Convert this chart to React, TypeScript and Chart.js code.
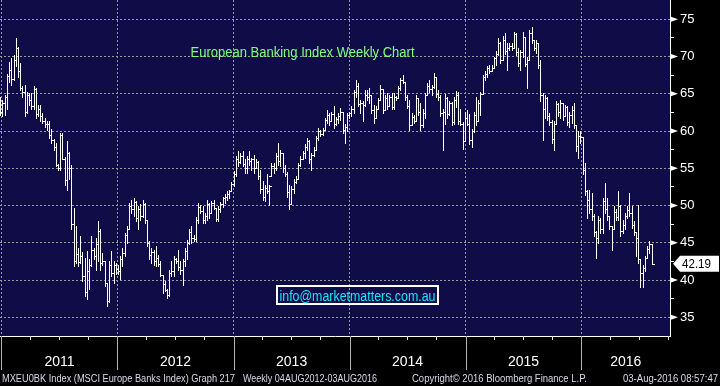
import React, { useEffect, useRef } from 'react';
import { Chart, registerables } from 'chart.js';

Chart.register(...registerables);

type Bar = [number, number, number, number]; // [open, high, low, close]

// Weekly bars, first bar = week ending 24-Dec-2010
const bars2011: Bar[] = [
  [63.0, 64.6, 62.2, 62.6], [62.6, 64.2, 62.0, 63.8], [63.8, 64.9, 62.2, 64.6], [64.6, 67.7, 62.9, 67.4],
  [67.4, 69.3, 66.6, 68.2], [68.2, 69.8, 66.2, 67.0], [67.0, 70.2, 66.8, 69.6], [69.6, 72.5, 68.7, 71.2],
  [71.2, 71.3, 67.3, 68.0], [68.0, 69.1, 65.5, 65.8], [65.8, 66.0, 64.6, 65.2], [65.2, 66.2, 62.0, 62.6],
  [62.6, 65.3, 62.4, 64.8], [64.8, 65.1, 63.5, 64.2], [64.2, 65.1, 62.9, 63.4], [63.4, 66.0, 62.9, 65.6],
  [65.6, 65.8, 61.7, 62.3], [62.3, 63.5, 62.0, 63.0], [63.0, 63.5, 61.3, 62.0], [62.0, 62.4, 61.1, 61.4],
  [61.4, 61.7, 60.6, 60.9], [60.9, 61.3, 60.2, 61.0], [61.0, 61.3, 59.1, 59.5], [59.5, 60.3, 58.4, 58.8],
  [58.8, 58.9, 57.5, 57.8], [57.8, 58.4, 55.3, 55.5], [55.5, 55.6, 54.8, 55.0], [55.0, 59.8, 54.8, 59.5],
  [59.5, 59.7, 56.2, 56.3], [56.3, 56.5, 52.8, 53.4], [53.4, 58.6, 52.1, 57.0], [57.0, 57.2, 53.5, 55.0],
  [55.0, 55.5, 46.8, 47.5], [47.5, 49.7, 41.9, 42.6], [42.6, 47.2, 42.3, 43.5], [43.5, 44.3, 41.9, 42.4],
  [42.4, 45.9, 42.3, 43.2], [43.2, 43.7, 39.9, 40.6], [40.6, 43.0, 37.9, 38.4], [38.4, 43.9, 37.4, 41.2],
  [41.2, 42.8, 38.8, 42.0], [42.0, 45.9, 41.9, 44.0], [44.0, 44.3, 42.8, 43.2], [43.2, 45.6, 41.4, 44.8],
  [44.8, 47.9, 42.5, 46.6], [46.6, 46.8, 41.4, 42.3], [42.3, 43.6, 42.0, 42.5], [42.5, 42.6, 39.2, 39.6],
  [39.6, 39.6, 36.5, 37.2], [37.2, 42.5, 37.0, 42.0], [42.0, 43.9, 40.5, 41.0], [41.0, 42.5, 39.6, 42.0],
  [42.0, 42.3, 40.8, 41.5],
];

const bars2012: Bar[] = [
  [41.5, 42.0, 40.8, 41.2], [41.2, 43.2, 40.1, 42.8], [42.8, 44.3, 41.9, 43.6], [43.6, 46.3, 43.2, 46.0],
  [46.0, 47.2, 45.0, 46.9], [46.9, 50.4, 46.8, 50.0], [50.0, 50.8, 49.0, 49.6], [49.6, 51.0, 48.6, 50.5],
  [50.5, 50.6, 47.9, 48.3], [48.3, 49.9, 46.8, 49.5], [49.5, 50.2, 48.0, 48.6], [48.6, 50.8, 48.5, 50.2],
  [50.2, 50.3, 47.7, 48.0], [48.0, 48.0, 44.6, 45.0], [45.0, 45.2, 42.8, 43.4], [43.4, 44.3, 42.3, 43.8],
  [43.8, 44.0, 42.0, 42.6], [42.6, 44.6, 41.9, 43.0], [43.0, 43.4, 41.9, 42.2], [42.2, 42.5, 40.5, 40.7],
  [40.7, 40.7, 38.3, 39.5], [39.5, 39.9, 38.5, 38.7], [38.7, 38.8, 37.6, 38.0], [38.0, 41.4, 37.9, 41.0],
  [41.0, 42.5, 40.5, 41.2], [41.2, 43.2, 40.5, 42.8], [42.8, 43.0, 42.3, 42.5], [42.5, 44.0, 41.4, 41.8],
  [41.8, 42.5, 40.8, 41.4], [41.4, 42.8, 39.4, 42.5], [42.5, 44.3, 41.9, 43.9], [43.9, 45.4, 42.8, 45.0],
  [45.0, 46.8, 44.8, 46.4], [46.4, 47.2, 45.0, 45.6], [45.6, 46.1, 45.2, 45.5], [45.5, 48.5, 45.2, 48.0],
  [48.0, 50.4, 47.7, 49.8], [49.8, 50.1, 49.0, 49.3], [49.3, 49.9, 47.7, 48.0], [48.0, 49.0, 47.7, 48.6],
  [48.6, 50.8, 48.1, 50.2], [50.2, 50.4, 48.3, 49.0], [49.0, 50.6, 49.0, 50.3], [50.3, 50.8, 49.5, 49.7],
  [49.7, 49.7, 47.9, 48.2], [48.2, 49.9, 47.9, 49.6], [49.6, 50.5, 49.2, 50.2], [50.2, 51.2, 49.8, 51.0],
  [51.0, 51.5, 50.4, 51.2], [51.2, 51.9, 50.8, 51.6], [51.6, 52.1, 51.0, 51.9], [51.9, 53.2, 51.9, 52.9],
];

const bars2013: Bar[] = [
  [52.9, 54.6, 52.6, 54.2], [54.2, 56.6, 54.0, 56.2], [56.2, 57.3, 55.3, 55.8], [55.8, 57.0, 55.7, 56.6],
  [56.6, 57.3, 55.3, 55.6], [55.6, 56.2, 54.4, 55.0], [55.0, 56.6, 54.4, 56.2], [56.2, 57.3, 55.5, 56.0],
  [56.0, 56.4, 54.8, 56.2], [56.2, 56.8, 54.4, 55.0], [55.0, 56.2, 55.0, 55.8], [55.8, 56.0, 53.5, 54.0],
  [54.0, 54.8, 51.7, 52.2], [52.2, 53.3, 50.8, 51.2], [51.2, 52.8, 50.6, 52.4], [52.4, 54.2, 51.7, 52.0],
  [52.0, 52.8, 50.1, 52.6], [54.0, 55.7, 53.9, 55.3], [55.3, 55.7, 54.4, 55.0], [55.0, 57.0, 54.8, 56.6],
  [56.6, 58.4, 55.5, 56.0], [56.0, 57.5, 55.3, 57.0], [57.0, 57.1, 54.5, 55.0], [55.0, 55.5, 53.9, 54.3],
  [54.3, 54.5, 51.2, 51.8], [51.8, 52.8, 49.5, 50.2], [50.2, 52.6, 50.2, 52.2], [52.2, 53.5, 51.7, 53.2],
  [53.2, 53.9, 53.0, 53.6], [53.6, 55.7, 53.5, 55.4], [55.4, 56.6, 55.3, 56.2], [56.2, 57.3, 56.2, 57.0],
  [57.0, 58.2, 56.4, 57.8], [57.8, 59.1, 57.5, 58.6], [58.6, 58.8, 55.7, 56.2], [56.2, 57.0, 54.8, 56.8],
  [56.8, 57.9, 56.6, 57.5], [57.5, 59.3, 57.4, 59.0], [59.0, 60.4, 58.8, 60.0], [60.0, 60.2, 59.3, 59.6],
  [59.6, 60.4, 59.5, 60.2], [60.2, 61.7, 60.2, 61.5], [61.5, 62.8, 61.1, 62.2], [62.2, 62.4, 60.8, 61.4],
  [61.4, 62.6, 61.3, 62.3], [62.3, 63.3, 60.4, 61.0], [61.0, 61.9, 60.8, 61.6], [61.6, 62.4, 61.1, 62.0],
  [62.0, 63.1, 61.5, 62.6], [62.6, 62.6, 59.7, 60.2], [60.2, 61.0, 58.4, 60.6], [60.6, 62.4, 60.0, 62.2],
];

const bars2014: Bar[] = [
  [62.2, 62.6, 61.8, 62.4], [62.4, 63.3, 62.0, 63.0], [63.0, 65.5, 62.4, 65.2], [65.2, 66.9, 64.6, 66.0],
  [66.0, 66.4, 63.3, 63.6], [63.6, 64.2, 62.4, 63.8], [63.8, 64.0, 61.3, 63.5], [63.5, 65.5, 63.3, 64.8],
  [64.8, 65.5, 64.2, 64.6], [64.6, 65.8, 63.8, 64.8], [64.8, 64.9, 62.4, 62.8], [62.8, 63.5, 61.1, 61.8],
  [61.8, 63.3, 61.7, 63.0], [63.0, 64.4, 63.0, 64.2], [64.2, 66.2, 64.2, 65.6], [65.6, 65.6, 62.4, 62.8],
  [62.8, 64.9, 62.8, 64.4], [64.4, 65.1, 62.9, 63.4], [63.4, 64.9, 63.4, 64.6], [64.6, 65.1, 62.9, 63.2],
  [63.2, 65.1, 62.9, 64.6], [64.6, 64.7, 64.2, 64.4], [64.4, 66.0, 64.4, 65.8], [65.8, 67.1, 65.5, 66.8],
  [66.8, 67.5, 66.4, 66.6], [66.6, 66.6, 64.2, 64.6], [64.6, 64.9, 63.1, 63.4], [63.4, 64.2, 60.2, 60.8],
  [60.8, 62.4, 60.8, 61.9], [61.9, 62.2, 61.1, 61.4], [61.4, 64.9, 61.3, 64.4], [64.4, 64.4, 62.2, 62.6],
  [62.6, 63.8, 60.2, 60.8], [60.8, 62.9, 60.6, 62.4], [62.4, 65.1, 61.7, 64.8], [64.8, 66.4, 64.8, 66.0],
  [66.0, 66.9, 65.3, 65.6], [65.6, 66.2, 64.9, 65.9], [65.9, 67.8, 65.8, 67.2], [67.2, 67.2, 64.6, 65.0],
  [65.0, 65.5, 64.2, 64.6], [64.6, 64.9, 62.0, 62.4], [62.4, 63.0, 57.4, 62.6], [62.6, 65.0, 61.0, 64.5],
  [64.5, 64.6, 61.7, 62.3], [62.3, 64.1, 62.1, 63.8], [63.8, 63.9, 60.8, 61.2], [61.2, 64.6, 61.0, 64.2],
  [64.2, 65.4, 63.2, 64.8], [64.8, 65.2, 61.0, 61.4], [61.4, 63.0, 60.8, 61.0], [61.0, 61.2, 57.6, 58.6],
];

const bars2015: Bar[] = [
  [58.6, 62.5, 58.6, 61.8], [61.8, 62.8, 60.8, 61.0], [61.0, 62.3, 58.3, 58.8], [58.8, 60.3, 57.9, 60.0],
  [60.0, 62.5, 59.9, 62.2], [62.2, 64.6, 60.8, 61.4], [61.4, 64.2, 61.4, 63.8], [63.8, 65.3, 62.2, 65.0],
  [65.0, 67.5, 65.0, 67.2], [67.2, 68.1, 66.8, 67.6], [67.6, 68.7, 67.2, 68.4], [68.4, 68.9, 67.8, 68.0],
  [68.0, 68.8, 68.0, 68.5], [68.5, 70.0, 68.5, 69.8], [69.8, 70.7, 68.9, 70.4], [70.4, 72.5, 70.2, 71.8],
  [71.8, 72.0, 69.1, 69.6], [69.6, 72.7, 69.6, 72.2], [72.2, 73.1, 70.4, 70.8], [70.8, 71.8, 68.2, 71.2],
  [71.2, 71.8, 70.9, 71.4], [71.4, 71.8, 70.9, 71.2], [71.2, 73.3, 71.2, 73.0], [73.0, 73.1, 70.2, 70.6],
  [70.6, 71.1, 68.7, 69.2], [69.2, 70.9, 68.2, 70.6], [70.6, 73.3, 70.0, 72.6], [72.6, 72.6, 68.7, 69.0],
  [69.0, 70.0, 65.8, 69.6], [69.6, 73.6, 69.6, 73.2], [73.2, 74.0, 71.8, 72.2], [72.2, 72.2, 70.9, 71.2],
  [71.2, 72.2, 70.5, 71.8], [71.8, 71.8, 68.4, 68.8], [68.8, 69.6, 64.0, 64.8], [64.8, 65.1, 58.8, 63.0],
  [63.0, 64.9, 61.7, 64.5], [64.5, 64.6, 61.5, 62.0], [62.0, 62.4, 60.8, 61.2], [61.2, 61.5, 58.4, 58.9],
  [58.9, 61.3, 57.5, 61.0], [61.0, 64.0, 61.0, 63.6], [63.6, 63.8, 62.0, 62.6], [62.6, 64.2, 61.7, 63.8],
  [63.8, 63.8, 61.5, 62.0], [62.0, 63.5, 62.0, 63.2], [63.2, 63.3, 60.8, 61.2], [61.2, 62.6, 60.6, 62.2],
  [62.2, 63.3, 61.1, 62.8], [62.8, 63.8, 60.4, 60.8], [60.8, 60.8, 57.3, 58.0], [58.0, 60.0, 56.4, 59.4],
];

const bars2016: Bar[] = [
  [59.4, 60.0, 58.4, 59.2], [59.2, 59.2, 54.2, 54.8], [54.8, 55.7, 51.4, 52.0], [52.0, 52.1, 48.3, 50.8],
  [50.8, 52.1, 49.0, 49.6], [49.6, 51.7, 48.1, 48.6], [48.6, 48.8, 45.9, 46.4], [46.4, 46.6, 43.0, 45.6],
  [45.6, 48.6, 45.0, 48.0], [48.0, 48.3, 46.3, 46.8], [46.8, 51.0, 46.3, 50.6], [50.6, 53.0, 49.0, 49.6],
  [49.6, 51.0, 48.1, 48.6], [48.6, 48.6, 46.8, 47.2], [47.2, 47.2, 44.1, 46.8], [46.8, 49.9, 46.8, 49.2],
  [49.2, 49.5, 48.1, 48.4], [48.4, 52.0, 48.1, 50.0], [50.0, 50.1, 45.9, 46.6], [46.6, 48.1, 46.3, 47.4],
  [47.4, 49.0, 46.8, 48.6], [48.6, 49.9, 48.3, 49.4], [49.4, 51.7, 48.6, 49.0], [49.0, 50.0, 47.0, 47.4],
  [47.4, 47.9, 46.1, 46.4], [46.4, 46.4, 43.2, 45.6], [45.6, 50.1, 42.3, 42.8], [42.8, 42.8, 39.0, 41.0],
  [41.0, 42.0, 39.0, 41.6], [41.6, 43.2, 41.2, 43.0], [43.0, 44.6, 43.0, 44.2], [44.2, 45.2, 43.6, 44.8],
  [44.8, 44.8, 42.1, 42.19],
];

const yTickValues = [35, 37.5, 40, 42.5, 45, 47.5, 50, 52.5, 55, 57.5, 60, 62.5, 65, 67.5, 70, 72.5, 75];
const yearLabels = ['2011', '2012', '2013', '2014', '2015', '2016'];
const lastPrice = 42.19;

const chartTitle = 'European Banking Index Weekly Chart';
const contactText = 'info@marketmatters.com.au';
const footerLeft = 'MXEU0BK Index (MSCI Europe Banks Index) Graph 217';
const footerRange = 'Weekly 04AUG2012-03AUG2016';
const footerCopyright = 'Copyright\u00A9 2016 Bloomberg Finance L.P.';
const footerStamp = '03-Aug-2016 08:57:47';

const FONT = '"Liberation Sans", Arial, Helvetica, sans-serif';
const NAVY = '#100c48';
const GRID = '#9a9a9a';

const MS_DAY = 86400000;
const dayOf = (y: number, m: number, d: number) => (Date.UTC(y, m, d) - Date.UTC(2011, 0, 1)) / MS_DAY;

const allBars: Bar[] = [...bars2011, ...bars2012, ...bars2013, ...bars2014, ...bars2015, ...bars2016];
const firstBarDay = dayOf(2010, 11, 28);
const barDay = (i: number) => firstBarDay + 7 * i;

const X_MIN = -4.7;
const X_MAX = 2104.9;
const Y_MIN = 32.49;
const Y_MAX = 77.59;

const yearStarts = yearLabels.map((y) => dayOf(Number(y), 0, 1));
const yearMids = yearStarts.map((s, i) => (s + (i + 1 < yearStarts.length ? yearStarts[i + 1] : X_MAX)) / 2);
const xLabelMap = new Map<number, string>();
yearMids.forEach((m, i) => xLabelMap.set(m, yearLabels[i]));
const xTickValues = [...yearStarts, ...yearMids].sort((a, b) => a - b);

const bgPlugin = {
  id: 'bg',
  beforeDraw(chart: any) {
    const { ctx, chartArea, width, height } = chart;
    ctx.save();
    ctx.fillStyle = '#000';
    ctx.fillRect(0, 0, width, height);
    ctx.fillStyle = NAVY;
    ctx.fillRect(chartArea.left, chartArea.top, chartArea.right - chartArea.left, chartArea.bottom - chartArea.top);
    ctx.restore();
  },
};

const ohlcPlugin = {
  id: 'ohlc',
  afterDatasetsDraw(chart: any) {
    const { ctx, chartArea } = chart;
    const xs = chart.scales.x;
    const ys = chart.scales.y;
    ctx.save();
    ctx.beginPath();
    ctx.rect(chartArea.left, chartArea.top, chartArea.right - chartArea.left, chartArea.bottom - chartArea.top);
    ctx.clip();
    ctx.fillStyle = '#ffffff';
    allBars.forEach((b, i) => {
      const px = Math.round(xs.getPixelForValue(barDay(i)));
      const yo = Math.round(ys.getPixelForValue(b[0]));
      const yh = Math.round(ys.getPixelForValue(b[1]));
      const yl = Math.round(ys.getPixelForValue(b[2]));
      const yc = Math.round(ys.getPixelForValue(b[3]));
      ctx.fillRect(px, yh, 1, Math.max(1, yl - yh + 1));
      ctx.fillRect(px - 2, yo, 2, 1);
      ctx.fillRect(px + 1, yc, 2, 1);
    });
    ctx.restore();
  },
};

const decorPlugin = {
  id: 'decor',
  afterDraw(chart: any) {
    const { ctx, chartArea } = chart;
    const xs = chart.scales.x;
    const ys = chart.scales.y;
    ctx.save();

    // title
    ctx.font = `14px ${FONT}`;
    ctx.fillStyle = '#80ff80';
    ctx.textAlign = 'center';
    ctx.textBaseline = 'alphabetic';
    ctx.fillText(chartTitle, 302.5, 57, 224);

    // contact box
    ctx.strokeStyle = '#ffffff';
    ctx.lineWidth = 2;
    ctx.strokeRect(277, 286, 161, 18);
    ctx.font = `14px ${FONT}`;
    ctx.fillStyle = '#19e6ff';
    ctx.fillText(contactText, 357.5, 300.5, 156);

    // x-axis tick marks: quarter ticks and year dividers
    const bottom = chartArea.bottom;
    ctx.lineWidth = 1;
    yearStarts.forEach((s, yi) => {
      for (let q = 0; q < 4; q++) {
        const d = dayOf(Number(yearLabels[yi]), q * 3, 1);
        if (d < X_MIN || d > X_MAX) continue;
        const px = Math.round(xs.getPixelForValue(d)) + 0.5;
        ctx.strokeStyle = q === 0 ? '#b4b4b4' : '#e0e0e0';
        ctx.beginPath();
        ctx.moveTo(px, bottom);
        ctx.lineTo(px, q === 0 ? bottom + 34 : bottom + 4);
        ctx.stroke();
      }
    });

    // right axis markers
    const axisX = chartArea.right;
    ctx.fillStyle = '#ffffff';
    yTickValues.forEach((v) => {
      if (v % 5 !== 0) return;
      const py = ys.getPixelForValue(v);
      ctx.beginPath();
      ctx.moveTo(axisX + 1, py - 2.5);
      ctx.lineTo(axisX + 8, py);
      ctx.lineTo(axisX + 1, py + 2.5);
      ctx.closePath();
      ctx.fill();
    });

    // last price tag
    const lp = ys.getPixelForValue(lastPrice);
    ctx.beginPath();
    ctx.moveTo(axisX + 3, lp);
    ctx.lineTo(axisX + 10, lp - 8);
    ctx.lineTo(719, lp - 8);
    ctx.lineTo(719, lp + 8);
    ctx.lineTo(axisX + 10, lp + 8);
    ctx.closePath();
    ctx.fill();
    ctx.fillStyle = '#000000';
    ctx.font = `13px ${FONT}`;
    ctx.textAlign = 'left';
    ctx.textBaseline = 'middle';
    ctx.fillText(lastPrice.toFixed(2), axisX + 12, lp + 0.5, 29);

    // footer
    ctx.font = `10px ${FONT}`;
    ctx.fillStyle = '#d8d8ec';
    ctx.textBaseline = 'alphabetic';
    ctx.textAlign = 'left';
    ctx.fillText(footerLeft, 2, 382, 233);
    ctx.fillText(footerRange, 243, 382, 134);
    ctx.fillText(footerCopyright, 412, 382, 175);
    ctx.textAlign = 'right';
    ctx.fillText(footerStamp, 718, 382, 95);

    ctx.restore();
  },
};

export default function App() {
  const canvasRef = useRef<HTMLCanvasElement | null>(null);

  useEffect(() => {
    document.body.style.margin = '0';
    document.body.style.background = '#000';
    const canvas = canvasRef.current;
    if (!canvas) return;
    const chart = new Chart(canvas, {
      type: 'scatter',
      data: { datasets: [] },
      options: {
        responsive: false,
        animation: false,
        devicePixelRatio: 1,
        layout: { padding: 0 },
        plugins: {
          legend: { display: false },
          tooltip: { enabled: false },
          title: { display: false },
        },
        scales: {
          x: {
            type: 'linear',
            position: 'bottom',
            min: X_MIN,
            max: X_MAX,
            afterBuildTicks: (s: any) => {
              s.ticks = xTickValues.map((v) => ({ value: v }));
            },
            afterFit: (s: any) => {
              s.height = 50;
              s.paddingLeft = 0;
              s.paddingRight = 0;
            },
            ticks: {
              autoSkip: false,
              maxRotation: 0,
              minRotation: 0,
              padding: 18,
              color: '#ffffff',
              font: { family: FONT, size: 14 },
              callback: (v: any) => xLabelMap.get(Number(v)) ?? '',
            },
            grid: {
              drawTicks: false,
              lineWidth: 1,
              color: (c: any) => (c.tick && yearStarts.includes(c.tick.value) ? GRID : 'transparent'),
            },
            border: { display: true, color: '#ffffff', width: 1, dash: [2, 2] },
          },
          y: {
            type: 'linear',
            position: 'right',
            min: Y_MIN,
            max: Y_MAX,
            afterBuildTicks: (s: any) => {
              s.ticks = yTickValues.map((v) => ({ value: v }));
            },
            afterFit: (s: any) => {
              s.width = 50;
              s.paddingTop = 0;
              s.paddingBottom = 0;
            },
            ticks: {
              autoSkip: false,
              padding: 6,
              color: '#ffffff',
              font: { family: FONT, size: 13 },
              callback: (v: any) => (Number(v) % 5 === 0 ? String(v) : ''),
            },
            grid: {
              drawTicks: true,
              tickLength: 4,
              tickWidth: 1,
              lineWidth: 1,
              tickColor: (c: any) => (c.tick && c.tick.value % 5 !== 0 ? '#ffffff' : 'transparent'),
              color: (c: any) => (c.tick && c.tick.value % 5 === 0 ? GRID : 'transparent'),
            },
            border: { display: true, color: '#ffffff', width: 1, dash: [2, 2] },
          },
        },
      } as any,
      plugins: [bgPlugin, ohlcPlugin, decorPlugin],
    });
    return () => chart.destroy();
  }, []);

  return (
    <div style={{ width: 720, height: 386, background: '#000' }}>
      <canvas ref={canvasRef} width={720} height={386} style={{ display: 'block' }} />
    </div>
  );
}
